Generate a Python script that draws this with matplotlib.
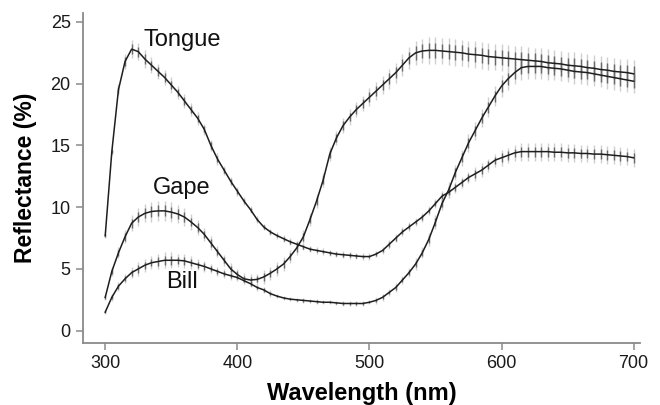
import matplotlib
matplotlib.use("Agg")
import matplotlib.pyplot as plt
import numpy as np

wavelength = list(range(300, 701, 5))

tongue = [7.7, 14.5, 19.5, 21.8, 22.8, 22.6, 22.0, 21.5, 21.0, 20.5,
          19.9, 19.3, 18.6, 17.9, 17.2, 16.3, 15.0, 13.9, 13.0, 12.1,
          11.3, 10.5, 9.8, 9.0, 8.4, 8.0, 7.7, 7.45, 7.2, 7.0,
          6.8, 6.6, 6.5, 6.4, 6.3, 6.2, 6.15, 6.1, 6.05, 6.0,
          6.0, 6.2, 6.5, 7.0, 7.5, 8.0, 8.4, 8.8, 9.2, 9.7,
          10.3, 10.9, 11.2, 11.6, 12.0, 12.4, 12.7, 13.0, 13.4, 13.8,
          14.0, 14.2, 14.4, 14.5, 14.5, 14.5, 14.5, 14.5, 14.45, 14.45,
          14.4, 14.4, 14.35, 14.35, 14.3, 14.3, 14.25, 14.2, 14.15, 14.1,
          14.0]

gape = [2.7, 4.8, 6.3, 7.6, 8.7, 9.2, 9.5, 9.65, 9.7, 9.7,
        9.6, 9.45, 9.2, 8.8, 8.35, 7.8, 7.1, 6.4, 5.7, 5.0,
        4.55, 4.2, 4.1, 4.15, 4.35, 4.65, 5.0, 5.4, 6.0, 6.7,
        7.6, 9.0, 10.5, 12.2, 14.3, 15.6, 16.6, 17.3, 17.9, 18.4,
        18.9, 19.4, 19.9, 20.4, 20.9, 21.5, 22.1, 22.5, 22.65, 22.7,
        22.7, 22.65, 22.6, 22.55, 22.5, 22.4, 22.35, 22.3, 22.2, 22.15,
        22.1, 22.05, 22.0, 21.95, 21.9, 21.85, 21.8, 21.7, 21.65, 21.6,
        21.5, 21.45, 21.4, 21.3, 21.25, 21.15, 21.1, 21.0, 20.95, 20.9,
        20.8]

bill = [1.5, 2.7, 3.6, 4.2, 4.7, 5.0, 5.3, 5.5, 5.6, 5.7,
        5.7, 5.7, 5.65, 5.5, 5.35, 5.2, 5.0, 4.8, 4.6, 4.45,
        4.3, 4.05, 3.8, 3.5, 3.3, 3.0, 2.8, 2.65, 2.55, 2.5,
        2.45, 2.4, 2.35, 2.3, 2.3, 2.25, 2.2, 2.2, 2.2, 2.2,
        2.3, 2.45, 2.7, 3.1, 3.5, 4.1, 4.7, 5.4, 6.3, 7.4,
        8.8, 10.3, 11.4, 12.8, 14.0, 15.2, 16.2, 17.2, 18.1, 19.0,
        19.8, 20.4, 20.9, 21.3, 21.4, 21.4, 21.4, 21.3, 21.25, 21.2,
        21.1, 21.0, 20.95, 20.9, 20.8, 20.7, 20.6, 20.5, 20.4, 20.3,
        20.2]

tongue_err = [0.1, 0.15, 0.25, 0.35, 0.4, 0.4, 0.4, 0.35, 0.35, 0.35,
              0.35, 0.3, 0.3, 0.3, 0.3, 0.25, 0.25, 0.25, 0.2, 0.2,
              0.2, 0.2, 0.15, 0.15, 0.15, 0.15, 0.15, 0.15, 0.15, 0.15,
              0.15, 0.15, 0.15, 0.15, 0.15, 0.15, 0.15, 0.15, 0.15, 0.15,
              0.15, 0.15, 0.15, 0.2, 0.2, 0.2, 0.2, 0.2, 0.2, 0.2,
              0.2, 0.25, 0.25, 0.25, 0.25, 0.25, 0.3, 0.3, 0.3, 0.3,
              0.35, 0.35, 0.35, 0.4, 0.4, 0.4, 0.4, 0.4, 0.4, 0.4,
              0.4, 0.4, 0.4, 0.4, 0.4, 0.4, 0.4, 0.4, 0.4, 0.4,
              0.4]

gape_err = [0.1, 0.2, 0.25, 0.3, 0.35, 0.4, 0.4, 0.45, 0.45, 0.45,
            0.45, 0.4, 0.4, 0.35, 0.35, 0.3, 0.3, 0.25, 0.25, 0.25,
            0.25, 0.25, 0.25, 0.25, 0.3, 0.3, 0.3, 0.3, 0.3, 0.3,
            0.3, 0.3, 0.3, 0.3, 0.3, 0.3, 0.35, 0.35, 0.35, 0.35,
            0.4, 0.4, 0.4, 0.45, 0.45, 0.5, 0.5, 0.55, 0.55, 0.6,
            0.6, 0.6, 0.6, 0.6, 0.6, 0.6, 0.6, 0.6, 0.6, 0.6,
            0.6, 0.6, 0.6, 0.6, 0.6, 0.6, 0.6, 0.6, 0.6, 0.6,
            0.6, 0.6, 0.6, 0.6, 0.6, 0.6, 0.6, 0.6, 0.6, 0.6,
            0.6]

bill_err = [0.1, 0.15, 0.2, 0.2, 0.25, 0.3, 0.3, 0.3, 0.35, 0.35,
            0.35, 0.3, 0.3, 0.3, 0.25, 0.25, 0.2, 0.2, 0.2, 0.2,
            0.15, 0.15, 0.15, 0.15, 0.15, 0.15, 0.1, 0.1, 0.1, 0.1,
            0.1, 0.1, 0.1, 0.1, 0.1, 0.1, 0.1, 0.1, 0.1, 0.1,
            0.1, 0.15, 0.15, 0.15, 0.2, 0.2, 0.2, 0.25, 0.25, 0.3,
            0.3, 0.3, 0.35, 0.35, 0.35, 0.4, 0.4, 0.4, 0.45, 0.45,
            0.5, 0.5, 0.5, 0.55, 0.55, 0.55, 0.55, 0.55, 0.55, 0.55,
            0.55, 0.55, 0.55, 0.55, 0.55, 0.55, 0.55, 0.55, 0.55, 0.55,
            0.55]

labels = ["Tongue", "Gape", "Bill"]
label_pos = [(358, 23.05), (358, 11.07), (358, 3.48)]

plt.rcParams['font.family'] = ['Liberation Sans', 'DejaVu Sans']

fig = plt.figure(figsize=(6.6, 4.05), dpi=100)
ax = fig.add_axes([0.126, 0.154, 0.844, 0.814])

series = [(tongue, tongue_err), (gape, gape_err), (bill, bill_err)]
for vals, err in series:
    v = np.array(vals)
    e = np.array(err)
    ax.errorbar(wavelength, v, yerr=e * 1.8, fmt='none', ecolor='#cfcfcf',
                elinewidth=1.0, capsize=0, zorder=1)
    ax.errorbar(wavelength, v, yerr=e, fmt='none', ecolor='#6a6a6a',
                elinewidth=1.0, capsize=0, zorder=2)
    ax.plot(wavelength, v, color='#1e1e1e', lw=1.1, zorder=3)

for lab, (x, y) in zip(labels, label_pos):
    ax.text(x, y, lab, fontsize=17, ha='center', va='baseline', color='#111111')

ax.set_xlim(283.3, 705)
ax.set_ylim(-0.97, 25.73)
ax.set_xticks([300, 400, 500, 600, 700])
ax.set_yticks([0, 5, 10, 15, 20, 25])

for s in ['top', 'right']:
    ax.spines[s].set_visible(False)
for s in ['left', 'bottom']:
    ax.spines[s].set_color('#8a8a8a')
    ax.spines[s].set_linewidth(1.3)

ax.tick_params(axis='both', direction='out', length=5, width=1.1,
               color='#8a8a8a', labelsize=13, labelcolor='#1a1a1a', pad=4)

ax.set_xlabel("Wavelength (nm)", fontsize=17, fontweight='bold', labelpad=7)
ax.set_ylabel("Reflectance (%)", fontsize=16.5, fontweight='bold', labelpad=10)

fig.savefig("out.png", dpi=100)
